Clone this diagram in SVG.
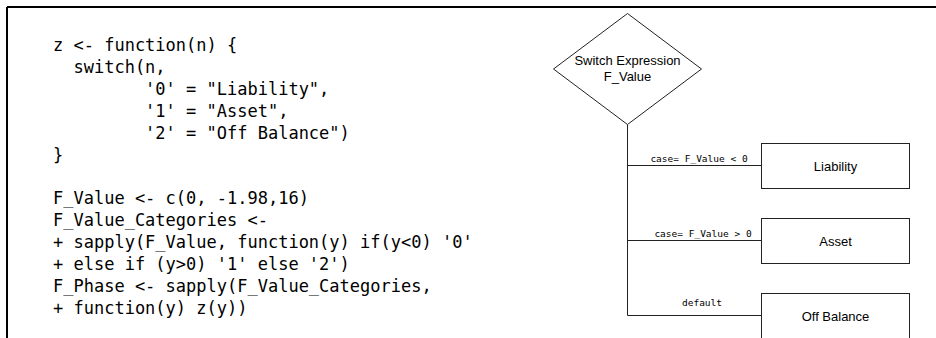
<svg xmlns="http://www.w3.org/2000/svg" width="936" height="338" viewBox="0 0 936 338">
<style>
.code{font-family:"DejaVu Sans Mono","Liberation Mono",monospace;font-size:17px;fill:#000;white-space:pre}
.lbl{font-family:"Liberation Sans",Arial,sans-serif;font-size:13px;fill:#000;text-anchor:middle}
.elbl{font-family:"DejaVu Sans Mono","Liberation Mono",monospace;font-size:9.5px;fill:#000;text-anchor:middle;white-space:pre}
.shape{fill:#fff;stroke:#222;stroke-width:1}
.conn{fill:none;stroke:#222;stroke-width:1}
</style>
<rect width="936" height="338" fill="#fff"/>
<path d="M7,7 H936 M7,7 V338" fill="none" stroke="#000" stroke-width="2"/>
<g id="code">
<text class="code" xml:space="preserve" x="53" y="50.5">z &lt;- function(n) {</text>
<text class="code" xml:space="preserve" x="53" y="72.5">  switch(n,</text>
<text class="code" xml:space="preserve" x="53" y="94.5">         '0' = "Liability",</text>
<text class="code" xml:space="preserve" x="53" y="116.5">         '1' = "Asset",</text>
<text class="code" xml:space="preserve" x="53" y="138.5">         '2' = "Off Balance")</text>
<text class="code" xml:space="preserve" x="53" y="160.5">}</text>
<text class="code" xml:space="preserve" x="53" y="204">F_Value &lt;- c(0, -1.98,16)</text>
<text class="code" xml:space="preserve" x="53" y="226">F_Value_Categories &lt;-</text>
<text class="code" xml:space="preserve" x="53" y="248">+ sapply(F_Value, function(y) if(y&lt;0) '0'</text>
<text class="code" xml:space="preserve" x="53" y="270">+ else if (y&gt;0) '1' else '2')</text>
<text class="code" xml:space="preserve" x="53" y="292">F_Phase &lt;- sapply(F_Value_Categories,</text>
<text class="code" xml:space="preserve" x="53" y="314">+ function(y) z(y))</text>
</g>
<g id="connectors">
<path class="conn" d="M627.5,124.5 V315.5 M627.5,165.5 H761 M627.5,240.5 H761 M627.5,315.5 H761"/>
<text class="elbl" x="699" y="161.5">case= F_Value &lt; 0</text>
<text class="elbl" x="703" y="236.5">case= F_Value &gt; 0</text>
<text class="elbl" x="702" y="306">default</text>
</g>
<g id="switch">
<polygon class="shape" points="627.5,13.5 701.5,69 627.5,124.5 553.5,69"/>
<text class="lbl" x="627.5" y="65">Switch Expression</text>
<text class="lbl" x="627.5" y="81">F_Value</text>
</g>
<g id="liability">
<rect class="shape" x="761.5" y="143.5" width="148" height="45"/>
<text class="lbl" x="835.5" y="170.5">Liability</text>
</g>
<g id="asset">
<rect class="shape" x="761.5" y="218.5" width="148" height="45"/>
<text class="lbl" x="835.5" y="245.5">Asset</text>
</g>
<g id="offbalance">
<rect class="shape" x="761.5" y="293.5" width="148" height="45"/>
<text class="lbl" x="835.5" y="320.5">Off Balance</text>
</g>
</svg>
